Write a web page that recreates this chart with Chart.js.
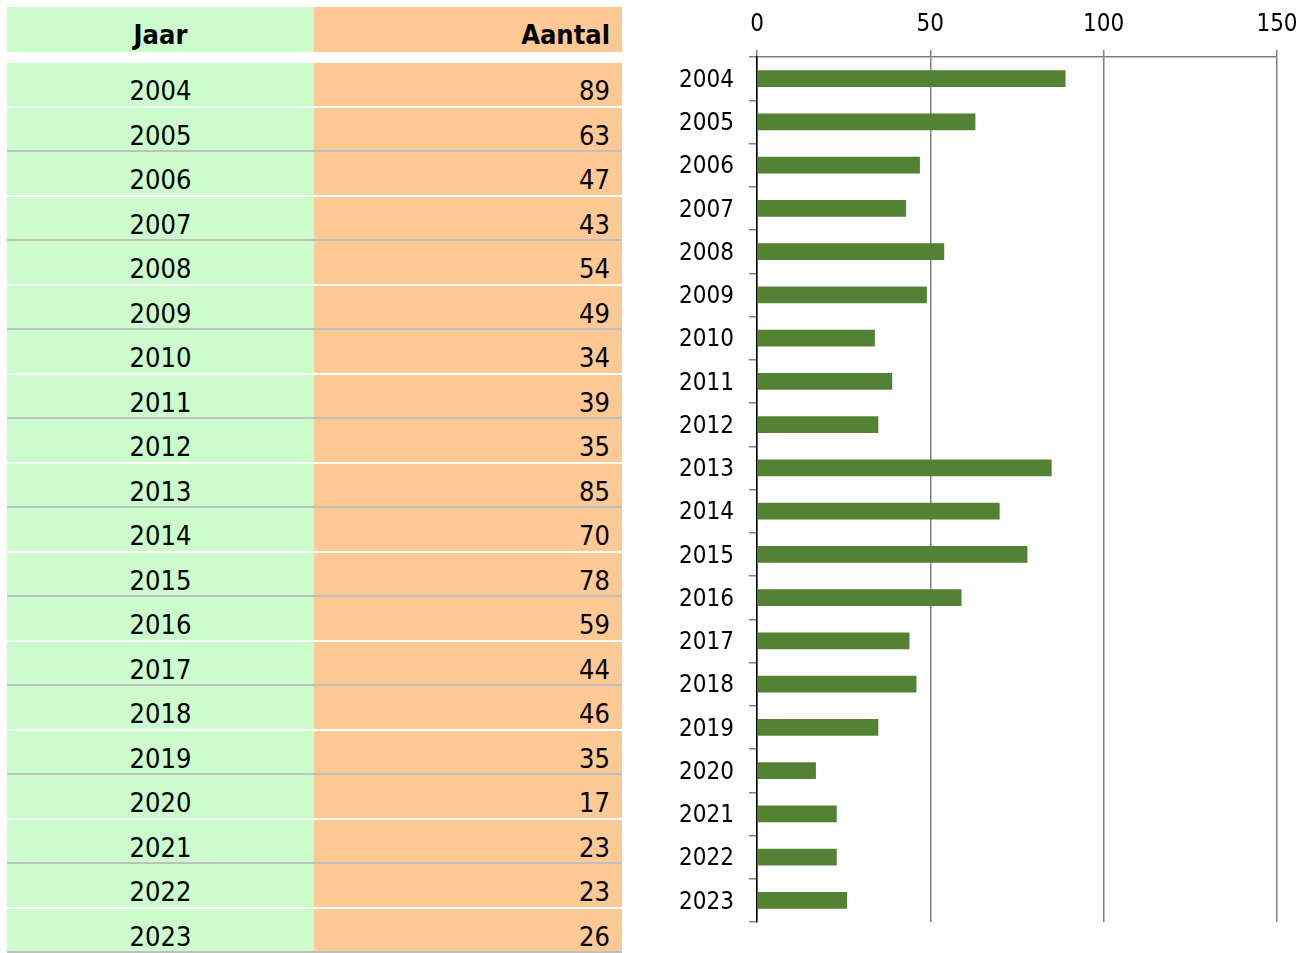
<!DOCTYPE html>
<html>
<head>
<meta charset="utf-8">
<script src="https://cdn.jsdelivr.net/npm/chart.js@4.4.1/dist/chart.umd.min.js"></script>
<style>
  html, body { margin: 0; padding: 0; background: #fff; }
  body { width: 1314px; height: 953px; position: relative; overflow: hidden;
         font-family: "DejaVu Sans Condensed", "DejaVu Sans", sans-serif; }
  #tbl { position: absolute; left: 7px; top: 7px; width: 615px; }
  .row { display: flex; height: 44.5px; box-sizing: border-box; font-size: 27px; color: #000; }
  .row .c1 { width: 307px; background: #ccfccc; text-align: center; padding-top: 12px; box-sizing: border-box; }
  .row .c2 { width: 308px; background: #ffc996; text-align: right; padding: 12px 12px 0 0; box-sizing: border-box; }
  .row.head { height: 45px; font-weight: bold; margin-bottom: 11px; }
  .row.head .c1, .row.head .c2 { padding-top: 12px; }
  .row.w { border-bottom: 2px solid #fff; }
  .row.g { border-bottom: 2px solid #c0c0c0; }
  #wrap { position: absolute; left: 640px; top: 0; width: 674px; height: 953px; }
</style>
</head>
<body>
<div id="tbl"></div>
<div id="wrap"><canvas id="chart" width="674" height="953"></canvas></div>
<script>
// data
const years = ['2004', '2005', '2006', '2007', '2008', '2009', '2010', '2011', '2012', '2013',
               '2014', '2015', '2016', '2017', '2018', '2019', '2020', '2021', '2022', '2023'];
const counts = [89, 63, 47, 43, 54, 49, 34, 39, 35, 85, 70, 78, 59, 44, 46, 35, 17, 23, 23, 26];
const xTicks = [0, 50, 100, 150];
const headers = ['Jaar', 'Aantal'];

// table on the left
const tbl = document.getElementById('tbl');
let html = '<div class="row head"><div class="c1">' + headers[0] + '</div><div class="c2">' + headers[1] + '</div></div>';
years.forEach((y, i) => {
  const cls = i % 2 === 0 ? 'w' : 'g';
  html += '<div class="row ' + cls + '"><div class="c1">' + y + '</div><div class="c2">' + counts[i] + '</div></div>';
});
tbl.innerHTML = html;

const FONT = '"DejaVu Sans Condensed", "DejaVu Sans", sans-serif';

new Chart(document.getElementById('chart'), {
  type: 'bar',
  data: {
    labels: years,
    datasets: [{
      data: counts,
      backgroundColor: '#548235',
      borderWidth: 0,
      barPercentage: 1,
      categoryPercentage: 0.39,
    }],
  },
  options: {
    indexAxis: 'y',
    responsive: false,
    animation: false,
    layout: { padding: { top: 0, left: 0, right: 37, bottom: 31 } },
    plugins: { legend: { display: false }, tooltip: { enabled: false } },
    scales: {
      x: {
        position: 'top',
        min: xTicks[0],
        max: xTicks[xTicks.length - 1],
        afterBuildTicks: (scale) => { scale.ticks = xTicks.map(v => ({ value: v })); },
        afterFit: (scale) => { scale.height = 57; },
        ticks: { color: '#000', font: { family: FONT, size: 24 }, padding: 11, maxRotation: 0 },
        grid: { color: '#808080', lineWidth: 1.5, tickLength: 7, tickColor: '#808080' },
        border: { color: '#808080', width: 1.5 },
      },
      y: {
        afterFit: (scale) => { scale.width = 117; },
        ticks: { color: '#000', font: { family: FONT, size: 24 }, padding: 15, autoSkip: false, labelOffset: 2 },
        grid: { drawOnChartArea: false, tickLength: 8, tickColor: '#808080', lineWidth: 1.5 },
        border: { color: '#000', width: 1.5 },
      },
    },
  },
});
</script>
</body>
</html>
